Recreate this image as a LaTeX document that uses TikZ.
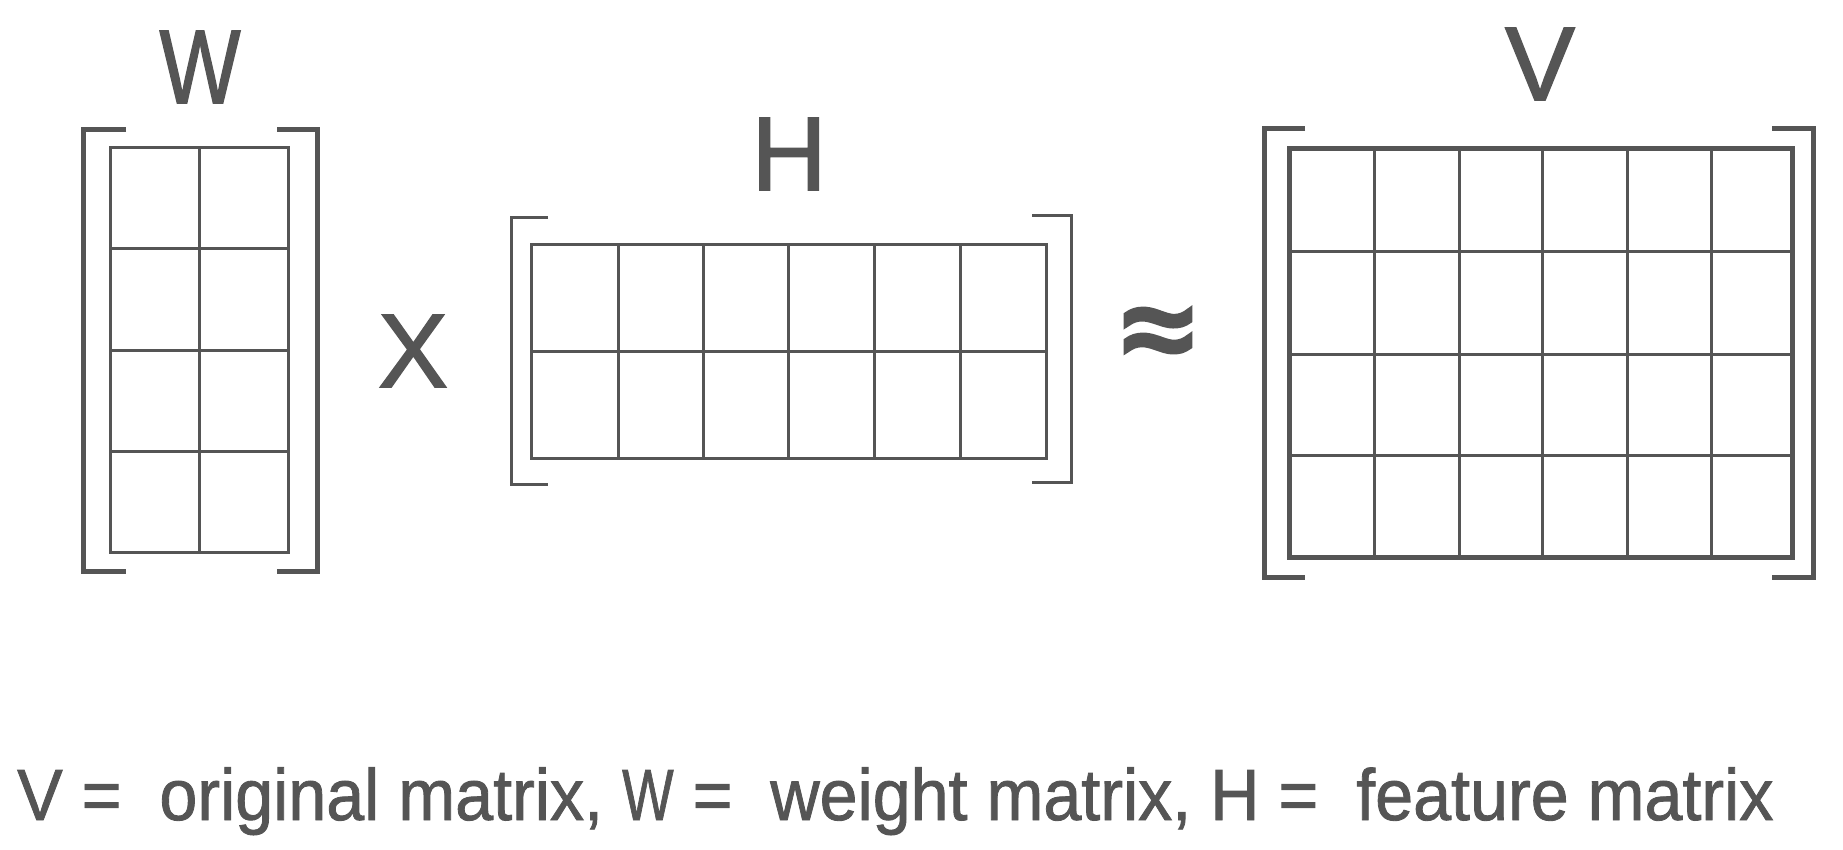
\documentclass[tikz,border=0pt]{standalone}
\usepackage{fontspec}
\setmainfont{Liberation Sans}
\newfontfamily\labelfont{Liberation Sans}[FakeBold=1.5]
\newfontfamily\approxfont{Liberation Sans}[FakeBold=5]
\newfontfamily\legendfont{Liberation Sans}[FakeBold=1.2]
\definecolor{ink}{RGB}{85,85,85}
\tikzset{
  thickbracket/.style={draw=ink, line width=5pt, line join=miter, line cap=butt},
  thinbracket/.style={draw=ink, line width=3pt, line join=miter, line cap=butt},
  gridline/.style={draw=ink, line width=3pt, line cap=rect},
  frameline/.style={draw=ink, line width=3pt, line join=miter},
  boldframe/.style={draw=ink, line width=5pt, line join=miter},
  biglabel/.style={text=ink, inner sep=0pt, anchor=base, font=\labelfont\fontsize{104.7}{120}\selectfont},
  legend/.style={text=ink, inner sep=0pt, anchor=base west, font=\legendfont\fontsize{72.6}{80}\selectfont}
}
\newcommand{\narrowW}{\scalebox{0.8}[1]{W}}
\begin{document}
\begin{tikzpicture}[x=1pt,y=-1pt]
\useasboundingbox (0,0) rectangle (1843,850);

% ---------- W (4x2) ----------
\draw[thickbracket] (126,130) -- (83,130) -- (83,571) -- (126,571);
\draw[thickbracket] (277,130) -- (317,130) -- (317,571) -- (277,571);
\draw[frameline] (110,148) rectangle (288,552);
\draw[gridline] (199,148) -- (199,552);
\foreach \y in {249,350,451} \draw[gridline] (110,\y) -- (288,\y);
\node[biglabel] (lW) at (200,103) {\scalebox{0.82}[1]{W}};

% ---------- times ----------
\node[biglabel] (times) at (413,387) {X};

% ---------- H (2x6) ----------
\draw[thinbracket] (548,218) -- (511,218) -- (511,484) -- (548,484);
\draw[thinbracket] (1032,216) -- (1071,216) -- (1071,482) -- (1032,482);
\draw[frameline] (531,245) rectangle (1046,458);
\foreach \x in {618,703,788,874,960} \draw[gridline] (\x,245) -- (\x,458);
\draw[gridline] (531,351) -- (1046,351);
\node[biglabel] (lH) at (789,190) {H};

% ---------- approx ----------
\node[text=ink, inner sep=0pt, anchor=base, font=\approxfont\fontsize{126}{140}\selectfont] (approx) at (1158,372) {≈};

% ---------- V (4x6) ----------
\draw[thickbracket] (1305,129) -- (1264,129) -- (1264,577) -- (1305,577);
\draw[thickbracket] (1772,129) -- (1813,129) -- (1813,577) -- (1772,577);
\foreach \x in {1374,1459,1542,1627,1711} \draw[gridline] (\x,149) -- (\x,557);
\foreach \y in {252,354,455} \draw[gridline] (1289,\y) -- (1792,\y);
\draw[boldframe] (1289,149) rectangle (1792,557);
\node[biglabel] (lV) at (1540,100) {V};

% ---------- legend ----------
\node[legend] (legendline) at (17,820) {\scalebox{0.94}[1]{V =\ \ original matrix, \narrowW\ =\ \ weight matrix, H =\ \ feature matrix}};
\end{tikzpicture}
\end{document}
